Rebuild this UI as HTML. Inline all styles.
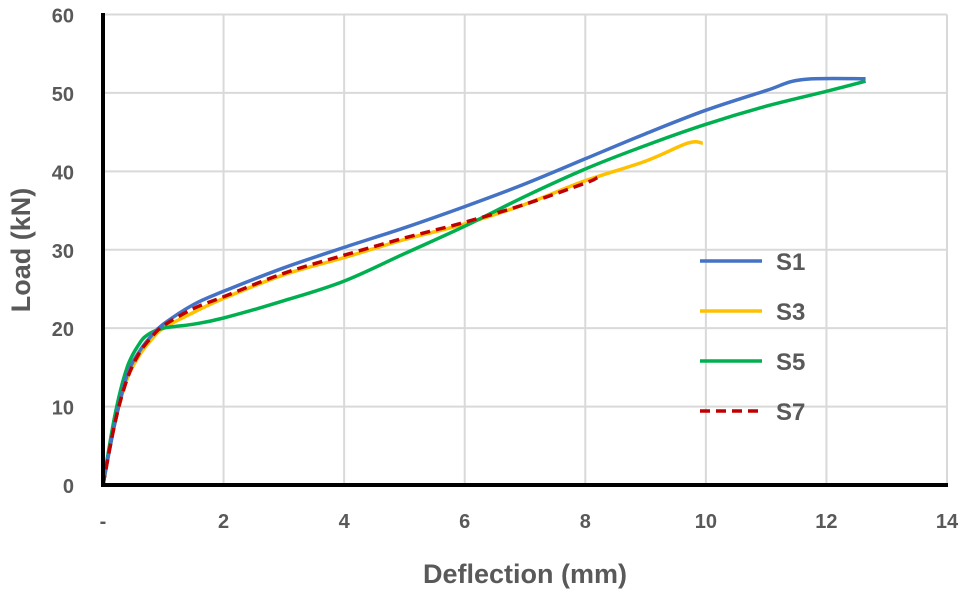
<!DOCTYPE html>
<html><head><meta charset="utf-8"><style>
body{margin:0;background:#fff}
svg text{font-family:"Liberation Sans",Arial,sans-serif;font-weight:bold;fill:#595959}
</style></head><body>
<svg id="chart" width="975" height="592" viewBox="0 0 975 592" xmlns="http://www.w3.org/2000/svg">
<g id="grid"></g>
<g id="series"></g>
<line x1="103" y1="13" x2="103" y2="487" stroke="#000" stroke-width="4"/>
<line x1="101" y1="485" x2="948" y2="485" stroke="#000" stroke-width="4"/>
<g id="ticks"></g>
<text x="525" y="583" font-size="27" text-anchor="middle">Deflection (mm)</text>
<text transform="translate(30,250) rotate(-90)" font-size="27" text-anchor="middle">Load (kN)</text>
<g id="legend"></g>
</svg>
<script>
const xTicks=[0,2,4,6,8,10,12,14];
const xTickLabels=["-","2","4","6","8","10","12","14"];
const yTicks=[0,10,20,30,40,50,60];
const seriesNames=["S1","S3","S5","S7"];
const seriesColors=["#4472C4","#FFC000","#00B050","#C00000"];
const s1X=[0,0.2,0.4,0.6,0.8,1,1.5,2,3,4,5,6,7,8,9,10,11,11.6,12.65];
const s1Y=[0,8,14,17,19,20.5,23,24.7,27.7,30.3,32.8,35.5,38.4,41.6,44.8,47.8,50.3,51.7,51.8];
const s3X=[0,0.2,0.4,0.6,0.8,1,1.5,2,3,4,5,6,7,8,9,9.7,9.95];
const s3Y=[0,8,13.5,16.5,18.5,20,22,23.8,26.8,29,31.3,33.3,35.8,38.8,41.3,43.6,43.6];
const s5X=[0,0.2,0.4,0.6,0.75,1,1.5,2,3,4,5,6,7,8,9,10,11,12,12.65];
const s5Y=[0,9,15,18,19.2,20,20.5,21.3,23.5,26,29.5,33,36.8,40.3,43.3,46,48.3,50.2,51.5];
const s7X=[0,0.2,0.4,0.6,0.8,1,1.5,2,3,4,5,6,7,8,8.2];
const s7Y=[0,8,13.5,16.8,18.8,20.3,22.5,24,27,29.3,31.5,33.5,35.8,38.5,39.2];
const allX=[s1X,s3X,s5X,s7X], allY=[s1Y,s3Y,s5Y,s7Y];
const NS="http://www.w3.org/2000/svg";
const X0=103,X1=947,Y0=485,Y1=14.5;
function sx(v){return X0+(v-0)/(14-0)*(X1-X0);}
function sy(v){return Y0-(v-0)/(60-0)*(Y0-Y1);}
function mk(tag,attrs,parent){const e=document.createElementNS(NS,tag);for(const k in attrs)e.setAttribute(k,attrs[k]);parent.appendChild(e);return e;}
function smooth(P){
 let d='M'+P[0][0].toFixed(1)+','+P[0][1].toFixed(1);
 for(let i=0;i<P.length-1;i++){
  const p0=P[i-1]||P[i],p1=P[i],p2=P[i+1],p3=P[i+2]||P[i+1];
  const c1=[p1[0]+(p2[0]-p0[0])/6,p1[1]+(p2[1]-p0[1])/6];
  const c2=[p2[0]-(p3[0]-p1[0])/6,p2[1]-(p3[1]-p1[1])/6];
  d+=' C'+c1.map(v=>v.toFixed(1)).join(',')+' '+c2.map(v=>v.toFixed(1)).join(',')+' '+p2.map(v=>v.toFixed(1)).join(',');
 }
 return d;
}
const grid=document.getElementById('grid'),ticks=document.getElementById('ticks');
xTicks.forEach((t,i)=>{
 if(t>0){const l=mk('line',{x1:sx(t),x2:sx(t),y1:Y1,y2:Y0,stroke:'#d9d9d9','stroke-width':2},grid);
 
 }
 const tx=mk('text',{x:sx(t),y:528,'font-size':20,'text-anchor':'middle'},ticks);
 tx.textContent=xTickLabels[i];
 
 
});
yTicks.forEach(t=>{
 if(t>0){const l=mk('line',{x1:X0,x2:X1,y1:sy(t),y2:sy(t),stroke:'#d9d9d9','stroke-width':2},grid);
 
 }
 const tx=mk('text',{x:74,y:sy(t)+8,'font-size':20,'text-anchor':'end'},ticks);
 tx.textContent=String(t);
 
 
});
const sg=document.getElementById('series'),lg=document.getElementById('legend');
[1,2,0,3].forEach(i=>{
 const P=allX[i].map((x,j)=>[sx(x),sy(allY[i][j])]);
 const p=mk('path',{d:smooth(P),fill:'none',stroke:seriesColors[i],'stroke-width':3.5,'stroke-linejoin':'round'},sg);
 if(i===3){p.setAttribute('stroke-dasharray','10,6');}
 
 
});
seriesNames.forEach((n,i)=>{
 const y=261+i*50;
 const l=mk('line',{x1:700,x2:762,y1:y,y2:y,stroke:seriesColors[i],'stroke-width':3.5},lg);
 if(i===3)l.setAttribute('stroke-dasharray','10,6');
 
 
 const t=mk('text',{x:776,y:y+9,'font-size':24},lg);
 t.textContent=n;
 
 
});
</script>
</body></html>
